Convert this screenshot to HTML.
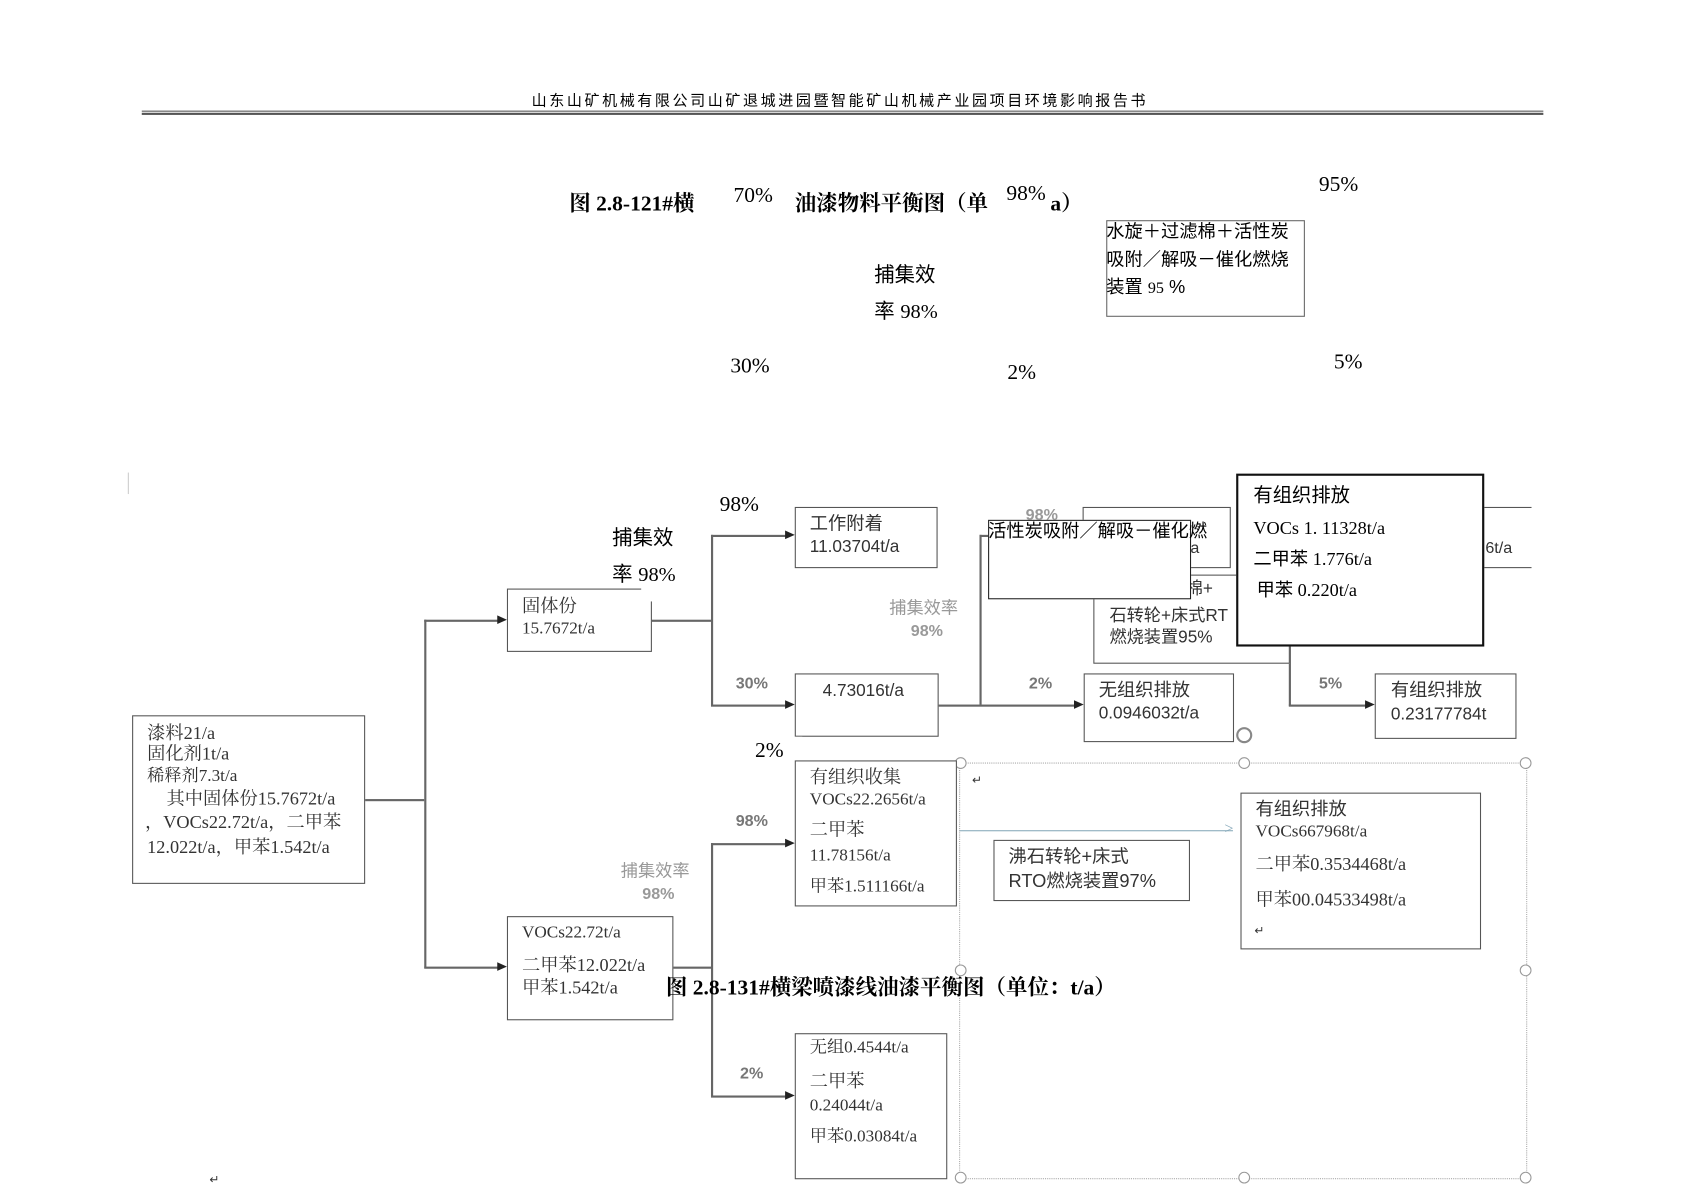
<!DOCTYPE html>
<html><head><meta charset="utf-8"><style>
html,body{margin:0;padding:0;background:#fff;}
#wrap{position:relative;width:1683px;height:1190px;overflow:hidden;background:#fff;}
#c{position:absolute;left:0;top:0;width:1566px;height:1108px;transform:scale(1.074);transform-origin:0 0;}
.t{position:absolute;white-space:nowrap;line-height:1;font-family:"Liberation Serif","Noto Serif CJK SC",serif;color:#000;}
.s{font-family:"Liberation Sans","Noto Sans CJK SC",sans-serif;}
.g{color:#333;}
.lg{color:#777;font-weight:bold;font-family:"Liberation Sans","Noto Sans CJK SC",sans-serif;}
.b{position:absolute;border:1.5px solid #555;background:#fff;box-sizing:border-box;}
.h{position:absolute;background:#666;height:1.5px;}
.v{position:absolute;background:#666;width:1.5px;}
.ar{position:absolute;width:0;height:0;border-top:4px solid transparent;border-bottom:4px solid transparent;border-left:9px solid #222;}
.hd{position:absolute;width:9px;height:9px;border:1px solid #999;border-radius:50%;background:#fff;}
</style></head><body><div id="wrap"><div id="c">

<div class="t s" style="left:495px;top:86px;font-size:14px;letter-spacing:2.4px;">山东山矿机械有限公司山矿退城进园暨智能矿山机械产业园项目环境影响报告书</div>
<div style="position:absolute;left:132px;top:103px;width:1305px;height:1px;background:#555;"></div>
<div style="position:absolute;left:132px;top:105px;width:1305px;height:2px;background:#555;"></div>

<div class="t" style="left:530px;top:180px;font-size:20px;font-weight:bold;">图 2.8-121#横</div>
<div class="t" style="left:740px;top:180px;font-size:20px;font-weight:bold;">油漆物料平衡图（单</div>
<div class="t" style="left:978px;top:180px;font-size:20px;font-weight:bold;">a）</div>
<div class="t" style="left:683px;top:172px;font-size:20px;">70%</div>
<div class="t" style="left:937px;top:170px;font-size:20px;">98%</div>
<div class="t" style="left:1228px;top:162px;font-size:20px;">95%</div>
<div class="b" style="left:1030px;top:205px;width:185px;height:90px;border-color:#666;"></div>
<div class="t s" style="left:1030px;top:207px;font-size:17px;">水旋＋过滤棉＋活性炭</div>
<div class="t s" style="left:1030px;top:233px;font-size:17px;">吸附／解吸－催化燃烧</div>
<div class="t s" style="left:1030px;top:259px;font-size:17px;">装置 <span style="font-family:'Liberation Serif';font-size:15px;">95</span> %</div>
<div class="t s" style="left:814px;top:247px;font-size:19px;">捕集效</div>
<div class="t s" style="left:814px;top:281px;font-size:19px;">率 <span style="font-family:'Liberation Serif'">98%</span></div>
<div class="t" style="left:680px;top:331px;font-size:20px;">30%</div>
<div class="t" style="left:938px;top:337px;font-size:20px;">2%</div>
<div class="t" style="left:1242px;top:327px;font-size:20px;">5%</div>
<div style="position:absolute;left:119px;top:440px;width:1px;height:20px;background:#ccc;"></div>

<!-- lines -->
<div class="h" style="left:339px;top:744px;width:56px;"></div>
<div class="v" style="left:395px;top:577px;height:324px;"></div>
<div class="h" style="left:395px;top:577px;width:70px;"></div><div class="ar" style="left:463px;top:573px;"></div>
<div class="h" style="left:395px;top:900px;width:70px;"></div><div class="ar" style="left:463px;top:896px;"></div>
<div class="h" style="left:606px;top:577px;width:56px;"></div>
<div class="v" style="left:662px;top:498px;height:159px;"></div>
<div class="h" style="left:662px;top:498px;width:70px;"></div><div class="ar" style="left:731px;top:494px;"></div>
<div class="h" style="left:662px;top:656px;width:70px;"></div><div class="ar" style="left:731px;top:652px;"></div>
<div class="h" style="left:873px;top:656px;width:128px;"></div><div class="ar" style="left:1000px;top:652px;"></div>
<div class="v" style="left:912px;top:498px;height:158px;"></div>
<div class="h" style="left:912px;top:498px;width:20px;"></div>
<div class="v" style="left:1200px;top:601px;height:56px;"></div>
<div class="h" style="left:1200px;top:656px;width:72px;"></div><div class="ar" style="left:1271px;top:652px;"></div>
<div class="h" style="left:626px;top:900px;width:36px;"></div>
<div class="v" style="left:662px;top:785px;height:236px;"></div>
<div class="h" style="left:662px;top:785px;width:70px;"></div><div class="ar" style="left:731px;top:781px;"></div>
<div class="h" style="left:662px;top:1020px;width:70px;"></div><div class="ar" style="left:731px;top:1016px;"></div>
<div style="position:absolute;left:893px;top:773px;width:255px;height:1px;background:#8ab;"></div>
<div class="t" style="left:1140px;top:765px;font-size:15px;color:#8ab;">&gt;</div>

<!-- dotted selection frame -->
<div style="position:absolute;left:893px;top:710px;width:527px;height:386px;border:1px dotted #aaa;"></div>
<div class="hd" style="left:889px;top:705px;"></div><div class="hd" style="left:1153px;top:705px;"></div><div class="hd" style="left:1415px;top:705px;"></div>
<div class="hd" style="left:889px;top:898px;"></div><div class="hd" style="left:1415px;top:898px;"></div>
<div class="hd" style="left:889px;top:1091px;"></div><div class="hd" style="left:1153px;top:1091px;"></div><div class="hd" style="left:1415px;top:1091px;"></div>
<div class="hd" style="left:1151px;top:677px;width:11px;height:11px;border:2px solid #888;"></div>

<!-- boxes -->
<div class="b" style="left:123px;top:666px;width:217px;height:157px;"></div>
<div class="t g" style="left:137px;top:674px;font-size:17px;">漆料21/a</div>
<div class="t g" style="left:137px;top:693px;font-size:17px;">固化剂1t/a</div>
<div class="t g" style="left:137px;top:715px;font-size:16px;">稀释剂7.3t/a</div>
<div class="t g" style="left:155px;top:735px;font-size:17px;">其中固体份15.7672t/a</div>
<div class="t g" style="left:135px;top:757px;font-size:17px;">，VOCs22.72t/a，二甲苯</div>
<div class="t g" style="left:137px;top:780px;font-size:17px;">12.022t/a，甲苯1.542t/a</div>

<div class="b" style="left:472px;top:548px;width:135px;height:59px;"></div>
<div style="position:absolute;left:597px;top:540px;width:14px;height:20px;background:#fff;"></div>
<div class="t g" style="left:486px;top:556px;font-size:17px;">固体份</div>
<div class="t g" style="left:486px;top:578px;font-size:16px;">15.7672t/a</div>
<div class="t" style="left:670px;top:460px;font-size:20px;">98%</div>
<div class="t s" style="left:570px;top:492px;font-size:19px;">捕集效</div>
<div class="t s" style="left:570px;top:526px;font-size:19px;">率 <span style="font-family:'Liberation Serif'">98%</span></div>

<div class="b" style="left:740px;top:472px;width:133px;height:57px;"></div>
<div class="t g s" style="left:754px;top:479px;font-size:17px;">工作附着</div>
<div class="t g s" style="left:754px;top:502px;font-size:16px;">11.03704t/a</div>
<div class="t lg" style="left:685px;top:629px;font-size:15px;">30%</div>
<div class="b" style="left:740px;top:627px;width:134px;height:59px;"></div>
<div class="t g s" style="left:766px;top:636px;font-size:16px;">4.73016t/a</div>

<div class="t lg" style="left:828px;top:559px;font-size:16px;font-weight:normal;color:#999;">捕集效率</div>
<div class="t lg" style="left:848px;top:580px;font-size:15px;color:#999;">98%</div>
<div class="t lg" style="left:958px;top:629px;font-size:15px;">2%</div>
<div class="b" style="left:1009px;top:627px;width:140px;height:64px;"></div>
<div class="t g s" style="left:1023px;top:634px;font-size:17px;">无组织排放</div>
<div class="t g s" style="left:1023px;top:657px;font-size:16px;">0.0946032t/a</div>

<div class="t lg" style="left:955px;top:472px;font-size:15px;color:#999;">98%</div>
<div class="b" style="left:1008px;top:472px;width:138px;height:57px;"></div>
<div class="t g s" style="left:1100px;top:503px;font-size:15px;">t/a</div>
<div class="b" style="left:1018px;top:535px;width:183px;height:83px;"></div>
<div class="t g s" style="left:1088px;top:541px;font-size:16px;">滤棉+</div>
<div class="t g s" style="left:1033px;top:566px;font-size:16px;">石转轮+床式RT</div>
<div class="t g s" style="left:1033px;top:586px;font-size:16px;">燃烧装置95%</div>
<div class="b" style="left:920px;top:484px;width:189px;height:74px;border-color:#222;"></div>
<div class="t s" style="left:920px;top:486px;font-size:17px;">活性炭吸附／解吸－催化燃</div>

<div class="b" style="left:1381px;top:472px;width:45px;height:57px;border-right:none;"></div>
<div class="t g s" style="left:1383px;top:503px;font-size:15px;">6t/a</div>
<div class="b" style="left:1151px;top:441px;width:231px;height:161px;border:2px solid #111;"></div>
<div class="t s" style="left:1167px;top:452px;font-size:18px;">有组织排放</div>
<div class="t" style="left:1167px;top:483px;font-size:17px;">VOCs 1. 11328t/a</div>
<div class="t" style="left:1167px;top:512px;font-size:17px;"><span class="s">二甲苯</span> 1.776t/a</div>
<div class="t" style="left:1170px;top:541px;font-size:17px;"><span class="s">甲苯</span> 0.220t/a</div>

<div class="t lg" style="left:1228px;top:629px;font-size:15px;">5%</div>
<div class="b" style="left:1280px;top:627px;width:132px;height:61px;"></div>
<div class="t g s" style="left:1295px;top:634px;font-size:17px;">有组织排放</div>
<div class="t g s" style="left:1295px;top:658px;font-size:16px;">0.23177784t</div>

<div class="t" style="left:703px;top:689px;font-size:20px;">2%</div>
<div class="b" style="left:740px;top:708px;width:151px;height:136px;"></div>
<div style="position:absolute;left:735px;top:686px;width:12px;height:20px;background:#fff;"></div>
<div class="t g" style="left:754px;top:715px;font-size:17px;">有组织收集</div>
<div class="t g" style="left:754px;top:737px;font-size:16px;">VOCs22.2656t/a</div>
<div class="t g" style="left:754px;top:764px;font-size:17px;">二甲苯</div>
<div class="t g" style="left:754px;top:789px;font-size:16px;">11.78156t/a</div>
<div class="t g" style="left:754px;top:818px;font-size:16px;">甲苯1.511166t/a</div>
<div class="t lg" style="left:685px;top:757px;font-size:15px;">98%</div>
<div class="t lg" style="left:578px;top:804px;font-size:16px;font-weight:normal;color:#999;">捕集效率</div>
<div class="t lg" style="left:598px;top:825px;font-size:15px;color:#999;">98%</div>

<div class="b" style="left:472px;top:853px;width:155px;height:97px;"></div>
<div class="t g" style="left:486px;top:861px;font-size:16px;">VOCs22.72t/a</div>
<div class="t g" style="left:486px;top:890px;font-size:17px;">二甲苯12.022t/a</div>
<div class="t g" style="left:486px;top:911px;font-size:17px;">甲苯1.542t/a</div>
<div class="t" style="left:620px;top:910px;font-size:20px;font-weight:bold;">图 2.8-131#横梁喷漆线油漆平衡图（单位：t/a）</div>

<div class="t lg" style="left:689px;top:992px;font-size:15px;">2%</div>
<div class="b" style="left:740px;top:962px;width:142px;height:136px;"></div>
<div class="t g" style="left:754px;top:968px;font-size:16px;">无组0.4544t/a</div>
<div class="t g" style="left:754px;top:998px;font-size:17px;">二甲苯</div>
<div class="t g" style="left:754px;top:1022px;font-size:16px;">0.24044t/a</div>
<div class="t g" style="left:754px;top:1051px;font-size:16px;">甲苯0.03084t/a</div>

<div class="b" style="left:925px;top:782px;width:183px;height:57px;"></div>
<div class="t g s" style="left:939px;top:789px;font-size:17px;">沸石转轮+床式</div>
<div class="t g s" style="left:939px;top:812px;font-size:17px;">RTO燃烧装置97%</div>

<div class="b" style="left:1155px;top:738px;width:224px;height:146px;"></div>
<div class="t g s" style="left:1169px;top:745px;font-size:17px;">有组织排放</div>
<div class="t g" style="left:1169px;top:767px;font-size:16px;">VOCs667968t/a</div>
<div class="t g" style="left:1169px;top:796px;font-size:17px;">二甲苯0.3534468t/a</div>
<div class="t g" style="left:1169px;top:829px;font-size:17px;">甲苯00.04533498t/a</div>
<div class="t g" style="left:1168px;top:862px;font-size:11px;">↵</div>
<div class="t g" style="left:905px;top:722px;font-size:11px;">↵</div>
<div class="t g" style="left:195px;top:1094px;font-size:11px;">↵</div>

</div></div></body></html>
